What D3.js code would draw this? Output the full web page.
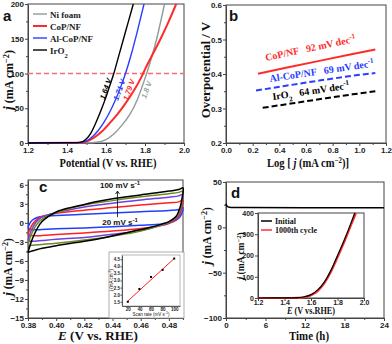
<!DOCTYPE html>
<html><head><meta charset="utf-8">
<script src="https://d3js.org/d3.v7.min.js"></script>
<style>body{margin:0;background:#fff}svg{display:block}</style>
</head><body><svg id="c" width="392" height="344"></svg>
<script>
// ---------- DATA ----------
// Panel a: LSV curves [potential V, j mA cm-2]
const lsvNames = ["Ni foam", "CoP/NF", "Al-CoP/NF", "IrO2"];
const lsvNi = [[1.2,0],[1.5,0.2],[1.55,1],[1.6,5],[1.64,13],[1.68,25],[1.72,40],[1.76,62],[1.80,93],[1.82,110],[1.86,150],[1.90,200]];
const lsvCoP = [[1.2,0],[1.47,0.3],[1.5,2],[1.54,8],[1.58,17],[1.62,29],[1.66,42],[1.70,57],[1.74,74],[1.78,94],[1.80,106],[1.84,128],[1.88,150],[1.92,174],[1.96,200]];
const lsvAl = [[1.2,0],[1.46,0.3],[1.5,3],[1.53,9],[1.56,18],[1.59,30],[1.62,45],[1.65,63],[1.68,84],[1.70,100],[1.73,128],[1.76,160],[1.795,200]];
const lsvIr = [[1.2,0],[1.45,0.5],[1.48,2],[1.5,6],[1.52,13],[1.54,24],[1.56,37],[1.58,51],[1.60,66],[1.62,83],[1.64,100],[1.66,120],[1.68,140],[1.70,160],[1.72,180],[1.74,200]];
const refCurrent = 100;
const potLabels = ["1.8 V", "1.79 V", "1.71 V", "1.64 V"];
const potValues = [1.805, 1.79, 1.70, 1.64];

// Panel b: Tafel lines [log j, overpotential V]
const tafelNames = ["CoP/NF   92 mV dec", "Al-CoP/NF   69 mV dec", "IrO2   64 mV dec"];
const tafelCoP = [[0.24,0.401],[0.45,0.418],[0.70,0.438],[0.95,0.458],[1.12,0.471]];
const tafelAl = [[0.225,0.352],[0.45,0.366],[0.70,0.381],[0.95,0.395],[1.12,0.403]];
const tafelIr = [[0.275,0.302],[0.50,0.315],[0.75,0.330],[0.95,0.341],[1.12,0.350]];

// Panel c: CV loops [E V, j mA cm-2], scan rates 20..100 mV/s
const scanRates = [20, 40, 60, 80, 100];
const cv20 = [[0.380,-0.8],[0.381,-0.2],[0.383,0.4],[0.386,0.8],[0.39,1.0],[0.40,1.15],[0.42,1.35],[0.44,1.55],[0.46,1.75],[0.48,1.95],[0.487,2.1],[0.49,2.4],[0.4895,1.7],[0.488,1.0],[0.485,0.4],[0.48,0.0],[0.475,-0.2],[0.46,-0.4],[0.44,-0.6],[0.42,-0.8],[0.40,-0.95],[0.39,-1.05],[0.385,-1.1],[0.382,-1.05],[0.380,-0.8]];
const cv40 = [[0.380,-1.9],[0.381,-1.2],[0.383,-0.3],[0.386,0.5],[0.39,1.0],[0.40,1.5],[0.42,2.0],[0.44,2.4],[0.46,2.8],[0.48,3.15],[0.487,3.3],[0.49,3.6],[0.4895,2.6],[0.488,1.4],[0.485,0.5],[0.48,-0.1],[0.475,-0.4],[0.46,-0.9],[0.44,-1.3],[0.42,-1.6],[0.40,-1.85],[0.39,-2.0],[0.385,-2.05],[0.382,-2.0],[0.380,-1.9]];
const cv60 = [[0.380,-2.8],[0.381,-2.0],[0.383,-0.9],[0.386,0.2],[0.39,0.9],[0.40,1.6],[0.42,2.5],[0.44,3.1],[0.46,3.6],[0.48,4.05],[0.487,4.25],[0.49,4.5],[0.4895,3.3],[0.488,1.8],[0.485,0.7],[0.48,0.0],[0.475,-0.4],[0.46,-1.2],[0.44,-1.8],[0.42,-2.3],[0.40,-2.6],[0.39,-2.8],[0.385,-2.9],[0.382,-2.9],[0.380,-2.8]];
const cv80 = [[0.380,-3.5],[0.381,-2.7],[0.383,-1.5],[0.386,-0.3],[0.39,0.6],[0.40,1.6],[0.42,2.8],[0.44,3.5],[0.46,4.1],[0.48,4.6],[0.487,4.8],[0.49,5.0],[0.4895,3.7],[0.488,2.1],[0.485,0.8],[0.48,0.1],[0.475,-0.3],[0.46,-1.3],[0.44,-2.1],[0.42,-2.7],[0.40,-3.2],[0.39,-3.4],[0.385,-3.5],[0.382,-3.55],[0.380,-3.5]];
const cv100 = [[0.380,-4.7],[0.381,-3.9],[0.383,-2.6],[0.386,-1.1],[0.39,0.2],[0.40,1.7],[0.41,2.4],[0.42,2.9],[0.43,3.4],[0.44,3.8],[0.46,4.4],[0.48,5.0],[0.487,5.25],[0.49,5.5],[0.4895,4.1],[0.488,2.5],[0.485,1.0],[0.48,0.2],[0.475,-0.2],[0.465,-0.8],[0.455,-1.3],[0.445,-1.8],[0.435,-2.3],[0.42,-2.9],[0.40,-3.6],[0.39,-4.0],[0.385,-4.3],[0.382,-4.5],[0.380,-4.7]];
// inset c: scan rate vs delta j
const insetRate = [20, 40, 60, 80, 100];
const insetJ = [1.5, 2.4, 3.25, 3.75, 4.55];
const insetFit = [[20,1.55],[100,4.55]];

// Panel d: chronoamperometry [time h, j]
const timeSeries = [[0,26],[0.1,24],[0.3,22.6],[0.8,22.0],[3,21.8],[12,21.7],[24,21.7]];
const insetNames = ["Initial", "1000th cycle"];
const initialLSV = [[1.2,0],[1.45,0.5],[1.5,2],[1.55,6],[1.6,16],[1.65,38],[1.7,75],[1.75,130],[1.8,200],[1.85,272],[1.9,350],[1.93,400]];
const cycledLSV = [[1.2,0],[1.45,0.3],[1.5,1],[1.55,4],[1.6,12],[1.65,32],[1.7,68],[1.75,122],[1.8,190],[1.85,262],[1.9,340],[1.94,400]];

// ticks
const aXTicks = [1.2,1.4,1.6,1.8,2.0], aYTicks = [0,50,100,150,200];
const bXTicks = [0,0.2,0.4,0.6,0.8,1.0,1.2], bYTicks = [0.2,0.3,0.4,0.5,0.6];
const cXTicks = [0.38,0.40,0.42,0.44,0.46,0.48], cYTicks = [-15,-12,-9,-6,-3,0,3,6];
const dXTicks = [0,6,12,18,24], dYTicks = [-100,-50,0,50];

// ---------- DRAW ----------
const svg = d3.select("#c");
const SANS = "Liberation Sans, Arial, sans-serif";
const SERIF = "Liberation Serif, Times New Roman, serif";
const AX = "#444";

function frame(g, x, y){
  const [x0,x1] = x.range(), [y0,y1] = y.range();
  g.append("rect").attr("x",x0).attr("y",Math.min(y0,y1)).attr("width",x1-x0).attr("height",Math.abs(y0-y1))
   .attr("fill","none").attr("stroke",AX).attr("stroke-width",1);
}
function axes(g, x, y, xt, yt, xfmt, yfmt, fs, xminor, yminor){
  fs = fs || 8;
  const xa = g.append("g").attr("transform",`translate(0,${y.range()[0]})`)
    .call(d3.axisBottom(x).tickValues(xt).tickFormat(xfmt).tickSize(3).tickSizeOuter(0));
  const ya = g.append("g").attr("transform",`translate(${x.range()[0]},0)`)
    .call(d3.axisLeft(y).tickValues(yt).tickFormat(yfmt).tickSize(3).tickSizeOuter(0));
  if(xminor) g.append("g").attr("transform",`translate(0,${y.range()[0]})`)
    .call(d3.axisBottom(x).tickValues(xminor).tickFormat("").tickSize(2).tickSizeOuter(0))
    .call(a=>{a.select(".domain").remove(); a.selectAll("line").attr("stroke",AX);});
  if(yminor) g.append("g").attr("transform",`translate(${x.range()[0]},0)`)
    .call(d3.axisLeft(y).tickValues(yminor).tickFormat("").tickSize(2).tickSizeOuter(0))
    .call(a=>{a.select(".domain").remove(); a.selectAll("line").attr("stroke",AX);});
  [xa,ya].forEach(a=>{
    a.select(".domain").attr("stroke",AX);
    a.selectAll(".tick line").attr("stroke",AX);
    a.selectAll("text").attr("font-family",SANS).attr("font-weight","bold").attr("font-size",fs).attr("fill","#222");
  });
  xa.selectAll("text").attr("y",4).attr("dy","0.72em");
  ya.selectAll("text").attr("x",-4);
  return [xa,ya];
}
function jLabel(g, cx, cy, fs){
  const t = g.append("text").attr("transform",`translate(${cx},${cy}) rotate(-90)`).attr("text-anchor","middle")
    .attr("font-family",SERIF).attr("font-weight","bold").attr("font-size",fs).attr("fill","#111");
  t.append("tspan").attr("font-style","italic").attr("font-size",fs*1.15).text("j");
  t.append("tspan").text(" (mA cm");
  t.append("tspan").attr("baseline-shift","super").attr("font-size",fs*0.7).text("−2");
  t.append("tspan").text(")");
}
function xTitle(g, cx, cy, len, parts, fs){
  fs = fs || 12;
  const t = g.append("text").attr("x",cx-len/2).attr("y",cy).attr("textLength",len).attr("lengthAdjust","spacingAndGlyphs")
    .attr("font-family",SERIF).attr("font-weight","bold").attr("font-size",fs).attr("fill","#111");
  parts.forEach(p=>{
    const s = t.append("tspan").text(p.t);
    if(p.i) s.attr("font-style","italic");
    if(p.sup){ s.attr("baseline-shift","super").attr("font-size",fs*0.65); }
  });
  return t;
}
function letter(txt, x, y){
  svg.append("text").attr("x",x).attr("y",y).text(txt).attr("font-family",SANS).attr("font-weight","bold").attr("font-size",15).attr("fill","#111");
}
const rng = (a,b,s)=>d3.range(a,b+s/2,s).map(v=>+v.toFixed(4));

// ===== Panel a =====
{
  const g = svg.append("g");
  const x = d3.scaleLinear().domain([1.2,2.0]).range([28,184]);
  const y = d3.scaleLinear().domain([0,200]).range([143,4]);
  axes(g,x,y,aXTicks,aYTicks,d3.format(".1f"),d3.format("d"),8,rng(1.3,1.9,0.2),rng(25,175,50));
  frame(g,x,y);
  const line = d3.line().x(d=>x(d[0])).y(d=>y(d[1])).curve(d3.curveMonotoneX);
  const series = [lsvNi, lsvCoP, lsvAl, lsvIr];
  const cols = ["#8f9a9a","#ff2b2b","#2b3dff","#000"];
  g.append("line").attr("x1",x(1.2)).attr("x2",x(2.0)).attr("y1",y(refCurrent)).attr("y2",y(refCurrent))
    .attr("stroke","#ff6b6b").attr("stroke-width",1.6).attr("stroke-dasharray","5,3");
  series.forEach((s,i)=>g.append("path").attr("d",line(s)).attr("fill","none").attr("stroke",cols[i]).attr("stroke-width",i==1?2:1.4));
  // legend
  lsvNames.forEach((n,i)=>{
    const ly = 14 + i*12;
    g.append("line").attr("x1",33).attr("x2",47).attr("y1",ly).attr("y2",ly).attr("stroke",cols[i]).attr("stroke-width",i==1?2:1.4);
    const t = g.append("text").attr("x",50).attr("y",ly+3.5).attr("font-family",SERIF).attr("font-weight","bold").attr("font-size",9).attr("fill","#222");
    if(n==="IrO2"){ t.append("tspan").text("IrO"); t.append("tspan").attr("baseline-shift","sub").attr("font-size",6.5).text("2"); }
    else t.text(n);
  });
  // potential annotations (rotated, ending just below the dashed line)
  const annCols = ["#9aa5a5","#ff2b2b","#2b3dff","#000"];
  const annEnd = [[6,9],[-8,7],[0,7],[-2,6]];
  potLabels.forEach((lbl,i)=>{
    const px = x(potValues[i]), py = y(refCurrent);
    const tx = px+annEnd[i][0], ty = py+annEnd[i][1];
    g.append("text").attr("transform",`translate(${tx},${ty}) rotate(-70)`).attr("text-anchor","end")
      .attr("font-family",SANS).attr("font-style","italic").attr("font-weight","bold").attr("font-size",7.5).attr("fill",annCols[i]).text(lbl);
  });
  jLabel(g,13,80,12);
  xTitle(g,108,167,97,[{t:"Potential (V vs. RHE)"}]);
  letter("a",3,21);
}

// ===== Panel b =====
{
  const g = svg.append("g");
  const x = d3.scaleLinear().domain([0,1.2]).range([226,386]);
  const y = d3.scaleLinear().domain([0.2,0.6]).range([143,5]);
  axes(g,x,y,bXTicks,bYTicks,d3.format(".1f"),d3.format(".1f"),8,rng(0.1,1.1,0.2),rng(0.25,0.55,0.1));
  frame(g,x,y);
  const line = d3.line().x(d=>x(d[0])).y(d=>y(d[1]));
  const series = [tafelCoP, tafelAl, tafelIr];
  const cols = ["#ff2b2b","#2b3dff","#000"];
  const dash = [null,"6,3","6,3"];
  series.forEach((s,i)=>g.append("path").attr("d",line(s)).attr("fill","none").attr("stroke",cols[i]).attr("stroke-width",2).attr("stroke-dasharray",dash[i]));
  const pos = [[266,61,-12],[270,82,-8.5],[273,100,-8.5]];
  tafelNames.forEach((n,i)=>{
    const t = g.append("text").attr("transform",`translate(${pos[i][0]},${pos[i][1]}) rotate(${pos[i][2]})`)
      .attr("font-family",SERIF).attr("font-weight","bold").attr("font-size",10).attr("fill",cols[i]).attr("xml:space","preserve");
    if(i===2){ t.append("tspan").text("IrO"); t.append("tspan").attr("baseline-shift","sub").attr("font-size",7).text("2"); t.append("tspan").text("   64 mV dec"); }
    else t.append("tspan").text(n);
    t.append("tspan").attr("baseline-shift","super").attr("font-size",7).text("-1");
  });
  g.append("text").attr("transform","translate(210,70) rotate(-90)").attr("text-anchor","middle").attr("font-family",SERIF).attr("font-weight","bold").attr("font-size",13).attr("fill","#111").text("Overpotential / V");
  xTitle(g,308,167,82,[{t:"Log [ "},{t:"j",i:1},{t:" (mA cm"},{t:"−2",sup:1},{t:")]"}]);
  letter("b",229,21);
}

// ===== Panel c =====
{
  const g = svg.append("g");
  const x = d3.scaleLinear().domain([0.38,0.49]).range([28,183]);
  const y = d3.scaleLinear().domain([-15,6.75]).range([318,180]);
  axes(g,x,y,cXTicks,cYTicks,d3.format(".2f"),d3.format("d"),8,rng(0.39,0.49,0.02),rng(-13.5,4.5,3));
  frame(g,x,y);
  const line = d3.line().x(d=>x(d[0])).y(d=>y(d[1])).curve(d3.curveCatmullRom.alpha(0.5));
  const series = [cv20, cv40, cv60, cv80, cv100];
  const cols = ["#2040ff","#ff2020","#7040e0","#6f8a1e","#000"];
  series.forEach((s,i)=>g.append("path").attr("d",line(s)).attr("fill","none").attr("stroke",cols[i]).attr("stroke-width",1.5));
  // arrow
  const ax = x(0.4435);
  g.append("line").attr("x1",ax).attr("x2",ax).attr("y1",y(0.9)).attr("y2",y(5.0)).attr("stroke","#000").attr("stroke-width",0.8);
  g.append("path").attr("d",`M${ax-2},${y(5.0)+3} L${ax},${y(5.0)} L${ax+2},${y(5.0)+3}`).attr("fill","none").attr("stroke","#000").attr("stroke-width",0.8);
  const lab = (txt,xx,yy)=>{ const t=g.append("text").attr("x",xx).attr("y",yy).attr("text-anchor","middle").attr("font-family",SANS).attr("font-weight","bold").attr("font-size",8).attr("fill","#111");
    t.append("tspan").text(txt); t.append("tspan").attr("baseline-shift","super").attr("font-size",6).text("-1"); };
  lab(`${scanRates[4]} mV s`, 120, 188);
  lab(`${scanRates[0]} mV s`, 120, 225);
  jLabel(g,12,267,11.5);
  xTitle(g,98,340,80,[{t:"E",i:1},{t:" (V vs. RHE)"}]);
  letter("c",39,192);
  // inset
  const ig = g.append("g");
  ig.append("rect").attr("x",109).attr("y",252).attr("width",75).attr("height",66).attr("fill","#fff").attr("stroke","#999").attr("stroke-width",0.8);
  const ix = d3.scaleLinear().domain([10,110]).range([122,180]);
  const iy = d3.scaleLinear().domain([1.2,4.8]).range([306,255]);
  const [ixa, iya] = axes(ig,ix,iy,insetRate,[1.5,2.0,2.5,3.0,3.5,4.0,4.5],d3.format("d"),d3.format(".1f"),4.5);
  ixa.selectAll(".tick line").attr("y2",1.5); iya.selectAll(".tick line").attr("x2",-1.5);
  ixa.selectAll("text").attr("y",2); iya.selectAll("text").attr("x",-2);
  ig.append("rect").attr("x",122).attr("y",255).attr("width",58).attr("height",51).attr("fill","none").attr("stroke","#888").attr("stroke-width",0.6);
  ig.append("path").attr("d",d3.line().x(d=>ix(d[0])).y(d=>iy(d[1]))(insetFit)).attr("stroke","#ff2020").attr("stroke-width",1);
  insetRate.forEach((r,i)=>ig.append("rect").attr("x",ix(r)-1).attr("y",iy(insetJ[i])-1).attr("width",2).attr("height",2).attr("fill","#000"));
  const it = ig.append("text").attr("x",151).attr("y",316).attr("text-anchor","middle").attr("font-family",SANS).attr("font-size",4.5).attr("fill","#111");
  it.append("tspan").text("Scan rate (mV s"); it.append("tspan").attr("baseline-shift","super").attr("font-size",3.5).text("-1"); it.append("tspan").text(")");
  const jt = ig.append("text").attr("transform","translate(113,280) rotate(-90)").attr("text-anchor","middle").attr("font-family",SANS).attr("font-size",4.5).attr("fill","#111");
  jt.append("tspan").attr("font-style","italic").text("j"); jt.append("tspan").text(" (mA cm"); jt.append("tspan").attr("baseline-shift","super").attr("font-size",3.5).text("-2"); jt.append("tspan").text(")");
}

// ===== Panel d =====
{
  const g = svg.append("g");
  const x = d3.scaleLinear().domain([0,24]).range([226,384]);
  const y = d3.scaleLinear().domain([-100,50]).range([318,182]);
  axes(g,x,y,dXTicks,dYTicks,d3.format("d"),d3.format("d"),8,rng(3,21,6),rng(-75,25,50));
  frame(g,x,y);
  const line = d3.line().x(d=>x(d[0])).y(d=>y(d[1])).curve(d3.curveMonotoneX);
  g.append("path").attr("d",line(timeSeries)).attr("fill","none").attr("stroke","#000").attr("stroke-width",1.5);
  jLabel(g,211,236,11.5);
  xTitle(g,309,340,40,[{t:"Time (h)"}]);
  letter("d",231,198);
  // inset
  const ix = d3.scaleLinear().domain([1.2,2.0]).range([258,364]);
  const iy = d3.scaleLinear().domain([0,400]).range([298,213]);
  g.append("rect").attr("x",258).attr("y",213).attr("width",106).attr("height",85).attr("fill","#fff");
  const [dxa, dya] = axes(g,ix,iy,[1.2,1.4,1.6,1.8,2.0],[0,100,200,300,400],d3.format(".1f"),d3.format("d"),7);
  dxa.selectAll("text").attr("y",2);
  frame(g,ix,iy);
  const il = d3.line().x(d=>ix(d[0])).y(d=>iy(d[1])).curve(d3.curveMonotoneX);
  g.append("path").attr("d",il(cycledLSV)).attr("fill","none").attr("stroke","#ff3030").attr("stroke-width",2);
  g.append("path").attr("d",il(initialLSV)).attr("fill","none").attr("stroke","#000").attr("stroke-width",1.2);
  const lc = ["#000","#ff3030"];
  insetNames.forEach((n,i)=>{
    const ly = 221 + i*9;
    g.append("line").attr("x1",261).attr("x2",272).attr("y1",ly).attr("y2",ly).attr("stroke",lc[i]).attr("stroke-width",1.5);
    g.append("text").attr("x",275).attr("y",ly+3).attr("font-family",SERIF).attr("font-weight","bold").attr("font-size",8).attr("fill","#111").text(n);
  });
  jLabel(g,244,256,9.5);
  xTitle(g,311,314,48,[{t:"E",i:1},{t:" (V vs.RHE)"}],10);
}
</script></body></html>
